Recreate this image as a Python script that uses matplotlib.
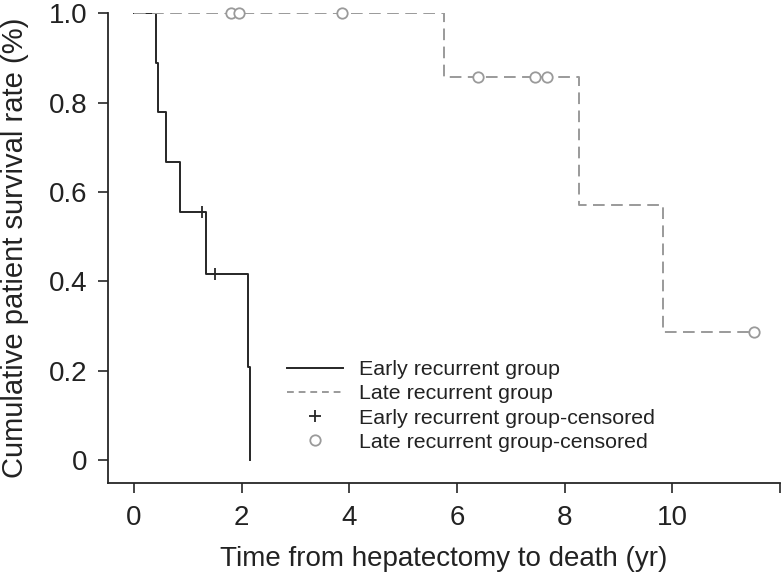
import matplotlib
matplotlib.use("Agg")
import matplotlib.pyplot as plt
from matplotlib.lines import Line2D

plt.rcParams['font.family'] = ['Liberation Sans', 'DejaVu Sans']

# Early recurrent group (Kaplan-Meier steps)
early_t = [0, 0.414, 0.444, 0.60, 0.845, 1.34, 2.12, 2.16]
early_s = [1.0, 0.889, 0.778, 0.667, 0.556, 0.417, 0.208, 0.0]
early_cens_t = [1.265, 1.50]
early_cens_s = [0.556, 0.417]

# Late recurrent group
late_t = [0, 5.75, 8.26, 9.82, 11.52]
late_s = [1.0, 0.857, 0.571, 0.286, 0.286]
late_cens_t = [1.81, 1.955, 3.87, 6.39, 7.45, 7.67, 11.52]
late_cens_s = [1.0, 1.0, 1.0, 0.857, 0.857, 0.857, 0.286]

xticks = [0, 2, 4, 6, 8, 10, 12]
xticklabels = ['0', '2', '4', '6', '8', '10', '']
yticks = [0, 0.2, 0.4, 0.6, 0.8, 1.0]
yticklabels = ['0', '0.2', '0.4', '0.6', '0.8', '1.0']

dark = '#262626'
gray = '#9a9a9a'

fig = plt.figure(figsize=(7.82, 5.75), dpi=100)
ax = fig.add_axes([0.1377, 0.16, 0.8597, 0.8169])

ax.step(early_t, early_s, where='post', color=dark, lw=1.4, zorder=3)
ax.step(late_t, late_s, where='post', color=gray, lw=1.4, dashes=(6, 3.3), zorder=4)
ax.plot(early_cens_t, early_cens_s, ls='none', marker='|', ms=9, mew=1.3, color=dark, zorder=5, clip_on=False)
ax.plot(late_cens_t, late_cens_s, ls='none', marker='o', ms=7.5, mew=1.3, mfc='white', mec=gray, zorder=5, clip_on=False)

ax.set_xlim(-0.49, 12)
ax.set_ylim(-0.0515, 1.0)
ax.set_xticks(xticks)
ax.set_xticklabels(xticklabels)
ax.set_yticks(yticks)
ax.set_yticklabels(yticklabels)

for s in ['top', 'right']:
    ax.spines[s].set_visible(False)
for s in ['left', 'bottom']:
    ax.spines[s].set_linewidth(1.3)
    ax.spines[s].set_color(dark)
ax.tick_params(axis='both', direction='out', length=7.5, width=1.2, color=dark,
               labelsize=20, labelcolor='#222222')
ax.tick_params(axis='x', pad=8)
ax.tick_params(axis='y', pad=7)

ax.set_xlabel('Time from hepatectomy to death (yr)', fontsize=20, color='#222222', labelpad=11)
ax.set_ylabel('Cumulative patient survival rate (%)', fontsize=21, color='#222222', labelpad=14)

handles = [
    Line2D([], [], color=dark, lw=1.4),
    Line2D([], [], color=gray, lw=1.4, dashes=(3.5, 2.5)),
    Line2D([], [], ls='none', marker='+', ms=9, mew=1.3, color=dark),
    Line2D([], [], ls='none', marker='o', ms=7.5, mew=1.3, mfc='white', mec=gray),
]
labels = ['Early recurrent group', 'Late recurrent group',
          'Early recurrent group-censored', 'Late recurrent group-censored']
leg = fig.legend(handles, labels, loc='center left', bbox_to_anchor=(287 / 782, 1 - 406 / 575),
                 frameon=False, fontsize=15.4, handlelength=2.6, handletextpad=0.75,
                 labelspacing=0.24, borderpad=0, borderaxespad=0)
for t in leg.get_texts():
    t.set_color('#222222')

fig.savefig('out.png', dpi=100)
